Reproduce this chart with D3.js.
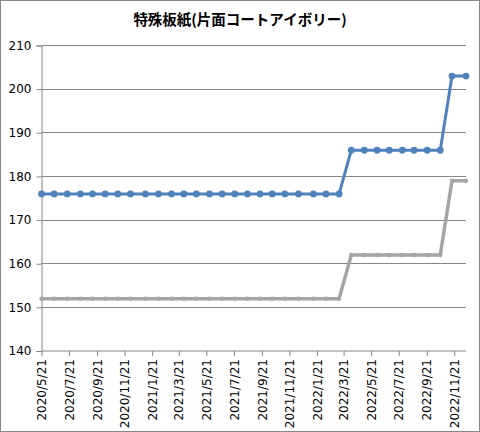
<!DOCTYPE html>
<html>
<head>
<meta charset="utf-8">
<script src="https://cdn.jsdelivr.net/npm/d3@7"></script>
<style>
  body { margin: 0; background: #fff; }
  svg { display: block; }
</style>
</head>
<body>
<div id="chart"></div>
<script>
// data
var dates = ["2020/5/21","2020/6/18","2020/7/17","2020/8/15","2020/9/11","2020/10/9","2020/11/6","2020/12/4",
  "2021/1/6","2021/2/4","2021/3/5","2021/4/1","2021/4/29","2021/5/28","2021/6/25","2021/7/23","2021/8/20",
  "2021/9/17","2021/10/14","2021/11/11","2021/12/11","2022/1/13","2022/2/10","2022/3/11","2022/4/7","2022/5/6",
  "2022/6/3","2022/6/30","2022/7/29","2022/8/24","2022/9/22","2022/10/21","2022/11/16","2022/12/17"];
var blueValues = [176,176,176,176,176,176,176,176,176,176,176,176,176,176,176,176,176,176,176,176,176,176,176,176,
  186,186,186,186,186,186,186,186,203,203];
var grayValues = [152,152,152,152,152,152,152,152,152,152,152,152,152,152,152,152,152,152,152,152,152,152,152,152,
  162,162,162,162,162,162,162,162,179,179];
var tickLabels = ["2020/5/21","2020/7/21","2020/9/21","2020/11/21","2021/1/21","2021/3/21","2021/5/21",
  "2021/7/21","2021/9/21","2021/11/21","2022/1/21","2022/3/21","2022/5/21","2022/7/21","2022/9/21","2022/11/21"];
var yTicks = [140,150,160,170,180,190,200,210];
var title = "特殊板紙(片面コートアイボリー)";

var W = 480, H = 432;
var margin = {top: 45.5, right: 14, bottom: 81, left: 41.5};
var width = W - margin.left - margin.right,
    height = H - margin.top - margin.bottom;
var parse = d3.timeParse("%Y/%-m/%-d");

var svg = d3.select("#chart").append("svg")
  .attr("width", W).attr("height", H);

// outer border
svg.append("rect")
  .attr("x", 0.5).attr("y", 0.5)
  .attr("width", W - 1).attr("height", H - 1)
  .attr("fill", "#fff").attr("stroke", "#868686");

svg.append("text")
  .attr("x", 240).attr("y", 25)
  .attr("text-anchor", "middle")
  .style("font-family", "'Noto Sans CJK JP', sans-serif")
  .style("font-size", "14.5px").style("font-weight", "bold")
  .text(title);

var g = svg.append("g")
  .attr("transform", "translate(" + margin.left + "," + margin.top + ")");

var x = d3.scaleTime()
  .domain([parse(dates[0]), parse(dates[dates.length - 1])])
  .range([0, width]);
var y = d3.scaleLinear()
  .domain([140, 210])
  .range([height, 0]);

// gridlines
g.append("g")
  .selectAll("line")
  .data(yTicks.slice(1))
  .enter().append("line")
    .attr("x1", 0).attr("x2", width)
    .attr("y1", function (d) { return Math.round(y(d)); })
    .attr("y2", function (d) { return Math.round(y(d)); })
    .attr("stroke", "#868686");

// Y axis
var yAxis = g.append("g")
  .call(d3.axisLeft(y).tickValues(yTicks).tickSize(5).tickPadding(5));
yAxis.selectAll("line, path").attr("stroke", "#868686");
yAxis.selectAll("text")
  .style("font-family", "'DejaVu Sans', Verdana, sans-serif")
  .style("font-size", "12px").attr("fill", "#000");

// X axis
var xAxis = g.append("g")
  .attr("transform", "translate(0," + height + ")")
  .call(d3.axisBottom(x).tickValues(tickLabels.map(parse)).tickSize(5)
    .tickFormat(function (d) { return d3.timeFormat("%Y/%-m/%-d")(d); }));
xAxis.select(".domain").attr("d", "M0,0H" + width);
xAxis.selectAll("line, path").attr("stroke", "#868686");
xAxis.selectAll("text")
  .style("font-family", "'DejaVu Sans', Verdana, sans-serif")
  .style("font-size", "12px").attr("fill", "#000")
  .attr("text-anchor", "end")
  .attr("transform", "rotate(-90)")
  .attr("x", -8).attr("y", 0).attr("dy", "0.35em");

function drawSeries(values, color, lw, r) {
  var pts = values.map(function (v, i) { return {d: parse(dates[i]), v: v}; });
  var line = d3.line()
    .x(function (d) { return x(d.d); })
    .y(function (d) { return y(d.v); });
  g.append("path")
    .datum(pts)
    .attr("d", line)
    .attr("fill", "none")
    .attr("stroke", color)
    .attr("stroke-width", lw)
    .attr("stroke-linejoin", "round");
  g.append("g")
    .selectAll("circle")
    .data(pts)
    .enter().append("circle")
      .attr("cx", function (d) { return x(d.d); })
      .attr("cy", function (d) { return y(d.v); })
      .attr("r", r)
      .attr("fill", color);
}

drawSeries(grayValues, "#A5A5A5", 3.5, 2.2);
drawSeries(blueValues, "#4F81BD", 3, 3.4);
</script>
</body>
</html>
